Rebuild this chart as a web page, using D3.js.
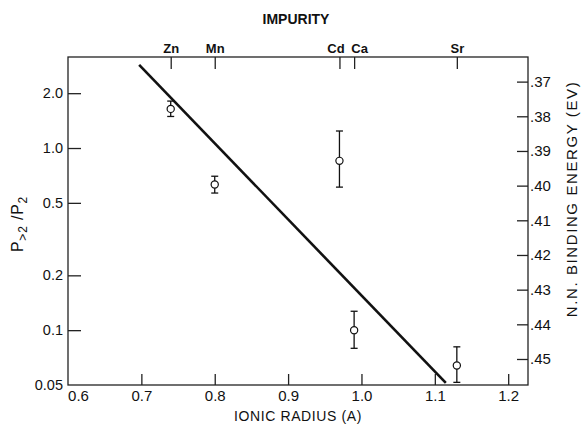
<!DOCTYPE html>
<html><head><meta charset="utf-8">
<script src="https://cdn.jsdelivr.net/npm/d3@7"></script>
<style>
body{margin:0;background:#fff;}
text{font-family:"Liberation Sans",Arial,sans-serif;fill:#111;}
</style></head>
<body><svg id="c" width="584" height="431"></svg>
<script>
// Data
const impurities = ["Zn","Mn","Cd","Ca","Sr"];
const ionicRadius = [0.74, 0.80, 0.97, 0.99, 1.13];
const ratio = [1.64, 0.63, 0.85, 0.100, 0.064];
const ratioHigh = [1.81, 0.70, 1.24, 0.127, 0.081];
const ratioLow = [1.49, 0.566, 0.61, 0.0795, 0.0517];
const fitX = [0.697, 1.115];
const fitY = [2.86, 0.0513];
const xTicks = [0.6, 0.7, 0.8, 0.9, 1.0, 1.1, 1.2];
const xTickLabels = ["0.6","0.7","0.8","0.9","1.0","1.1","1.2"];
const yTicks = [0.05, 0.1, 0.2, 0.5, 1.0, 2.0];
const yTickLabels = ["0.05","0.1","0.2","0.5","1.0","2.0"];
const eTicks = [0.37,0.38,0.39,0.40,0.41,0.42,0.43,0.44,0.45];
const eTickLabels = [".37",".38",".39",".40",".41",".42",".43",".44",".45"];

const L=68, R=528, T=57, B=385;
const svg = d3.select("#c");
const x = d3.scaleLinear().domain([0.6, 1.227]).range([L, R]);
const y = d3.scaleLog().domain([0.05, 3.16]).range([B, T]);
const yE = d3.scaleLinear().domain([0.3629, 0.4575]).range([T, B]);

// frame
svg.append("rect").attr("x",L).attr("y",T).attr("width",R-L).attr("height",B-T)
  .attr("fill","none").attr("stroke","#222").attr("stroke-width",1.3);

function styleAxis(g, fs, weight){
  g.select(".domain").remove();
  g.selectAll(".tick line").attr("stroke","#222").attr("stroke-width",1.3);
  g.selectAll(".tick text").style("font-size",fs+"px").style("font-weight",weight||"normal").attr("fill","#111");
}

// bottom axis
const gx = svg.append("g").attr("transform",`translate(0,${B})`)
  .call(d3.axisBottom(x).tickValues(xTicks).tickSize(-11).tickPadding(5)
    .tickFormat((d,i)=>xTickLabels[i]));
styleAxis(gx,15);
gx.selectAll(".tick").filter(d=>d===0.6).select("line").remove();
gx.selectAll(".tick text").filter(d=>d===0.6).attr("dx",10);

// left axis
const gy = svg.append("g").attr("transform",`translate(${L},0)`)
  .call(d3.axisLeft(y).tickValues(yTicks).tickSize(-13).tickPadding(5)
    .tickFormat((d,i)=>yTickLabels[i]));
styleAxis(gy,14.5);
gy.selectAll(".tick").filter(d=>d===0.05).select("line").remove();

// right axis
const gr = svg.append("g").attr("transform",`translate(${R},0)`)
  .call(d3.axisRight(yE).tickValues(eTicks).tickSize(-11).tickPadding(2)
    .tickFormat((d,i)=>eTickLabels[i]));
styleAxis(gr,15);

// top axis (impurities)
const gt = svg.append("g").attr("transform",`translate(0,${T})`)
  .call(d3.axisTop(x).tickValues(ionicRadius).tickSize(-12).tickPadding(4)
    .tickFormat((d,i)=>impurities[i]));
styleAxis(gt,13,"bold");
gt.selectAll(".tick text").filter(d=>d===0.97).attr("dx",-4);
gt.selectAll(".tick text").filter(d=>d===0.99).attr("dx",5);

// titles
svg.append("text").attr("x",296).attr("y",24).attr("text-anchor","middle")
  .style("font-size","14px").style("font-weight","bold").text("IMPURITY");
svg.append("text").attr("x",298).attr("y",421).attr("text-anchor","middle")
  .style("font-size","14px").style("letter-spacing","0.6px").text("IONIC RADIUS (A)");
svg.append("text").attr("transform","translate(577,199) rotate(-90)").attr("text-anchor","middle")
  .style("font-size","15px").style("letter-spacing","1.6px").text("N.N. BINDING ENERGY (EV)");
const yl = svg.append("text").attr("transform","translate(23,224) rotate(-90)").attr("text-anchor","middle")
  .style("font-size","16px").style("letter-spacing","0.8px");
yl.append("tspan").text("P");
yl.append("tspan").attr("dy",4).style("font-size","12px").text(">2");
yl.append("tspan").attr("dy",-4).text(" /P");
yl.append("tspan").attr("dy",4).style("font-size","12px").text("2");

// fit line
svg.append("line").attr("x1",x(fitX[0])).attr("y1",y(fitY[0]))
  .attr("x2",x(fitX[1])).attr("y2",y(fitY[1]))
  .attr("stroke","#111").attr("stroke-width",2.6);

// error bars and points
const pts = ionicRadius.map((r,i)=>({r, v:ratio[i], hi:ratioHigh[i], lo:ratioLow[i]}));
const g = svg.append("g");
pts.forEach(p=>{
  const cx = x(p.r);
  g.append("line").attr("x1",cx).attr("x2",cx).attr("y1",y(p.hi)).attr("y2",y(p.lo)).attr("stroke","#111").attr("stroke-width",1.3);
  [p.hi,p.lo].forEach(v=>g.append("line").attr("x1",cx-3.5).attr("x2",cx+3.5).attr("y1",y(v)).attr("y2",y(v)).attr("stroke","#111").attr("stroke-width",1.3));
  g.append("circle").attr("cx",cx).attr("cy",y(p.v)).attr("r",3.6).attr("fill","#fff").attr("stroke","#111").attr("stroke-width",1.2);
});
</script></body></html>
